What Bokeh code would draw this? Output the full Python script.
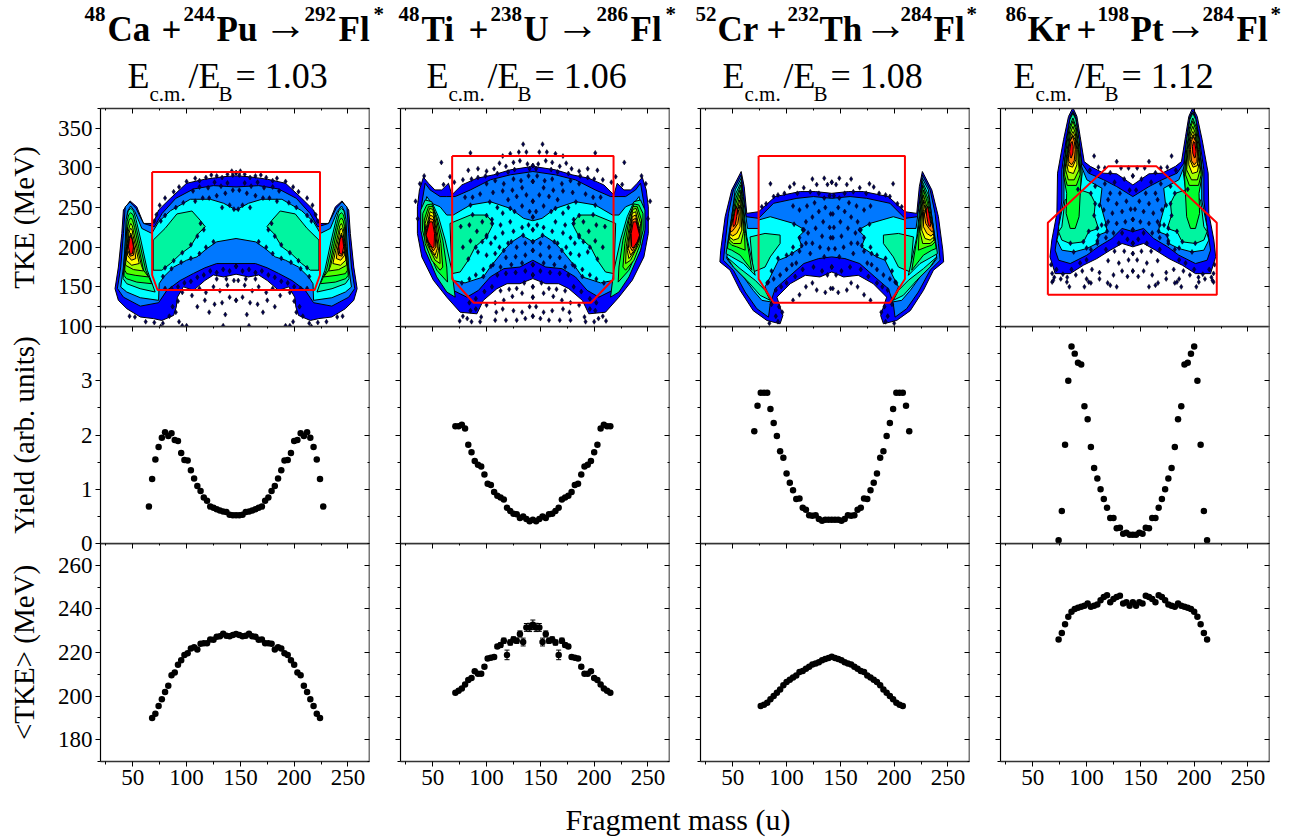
from bokeh.plotting import figure
from bokeh.layouts import column, row
from bokeh.models import LinearAxis, FixedTicker
from bokeh.core.properties import value
from bokeh.embed import file_html
from bokeh.resources import INLINE

SERIF = "Liberation Serif"
# half of each mirror-symmetric distribution, (mass, TKE)
CENTRE = [146, 143, 142, 143]

P1_BLUE = [(146,166),(134.5,162.5),(125,165),(117,158),(106.5,145.6),(97,150),(91.5,137),(90.4,124.5),(88,114),(77,107.6),(69,110),(57,112),(44.5,122.4),(36.6,133),(33.5,147.7),(36.6,175),(39.8,217.4),(41.3,247),(47.5,258.4),(53.7,251),(60,230),(69,230),(74,247),(85,261.7),(100,280.7),(117,285.8),(134.5,289),(146,290)]
P1_DODGER = [(146,179.4),(128,179.4),(117,174),(106.5,167),(94,158),(81.7,145.6),(74,130),(57,125.7),(41.3,137),(35.7,148),(38.8,175),(41.3,217.4),(43,251),(47.5,257),(53,249),(60,230),(70,225.8),(77.3,242.7),(90,261.7),(106.5,273.5),(125,277.7),(146,276)]
P1_CYAN = [(146,211),(128,206.8),(119,198.4),(109.6,187.8),(100,183.6),(88,175),(78.6,162.5),(74.5,154),(74,133),(57,136.3),(44.4,143.5),(38.8,149.8),(41.3,175),(43.8,217.4),(45,244.8),(48,252),(52,244.8),(58.4,223.7),(67.7,217.4),(74,232),(85,246),(103.4,260.5),(122,260.5),(134.5,255.4),(146,247)]
P1_TEAL = [[(69,171),(69,209),(80,223.7),(91,242),(105,245.7),(112.7,234),(117.4,225.8),(111,217.4),(103.4,200.5),(94,191),(85,179.4),(77,171)]]
P1_PEAK = [
 [(41,160.4),(42.8,200.5),(43.8,235),(45.8,246),(48.1,249),(50.6,246),(53,235),(57.5,209),(63.5,171),(70.8,143.5),(56.8,147.7),(44.4,154)],
 [(41.8,164.6),(43.6,200.5),(44.6,232),(46.2,241),(48.1,243.5),(50.2,241),(52.3,230),(56.5,204.7),(62,171),(67.7,154),(53.7,156),(44,160.4)],
 [(42.5,171),(44.2,200.5),(45.2,226),(46.6,234),(48.1,237),(49.8,234),(51.6,225),(55.5,200.5),(60,171),(64.6,162.5),(52.2,164.6),(44.4,166.7)],
 [(43.2,177.3),(44.8,200.5),(45.8,219.5),(47,227),(48.1,230),(49.6,227),(50.8,219),(54.3,198.4),(58,177.3),(60,170),(50.6,171.8)],
 [(44,183.6),(45.3,204.7),(46.4,217),(47.2,221.5),(48.1,224),(49.4,221.5),(50.2,215),(53.3,196.3),(56,179.4),(49,177.3)],
 [(45,189.9),(46.3,209),(48.1,218),(49.7,211),(51.9,196.3),(52.8,185.7),(48.8,183.6)],
 [(45.3,196.3),(46.6,211),(48.1,215.3),(49.7,209),(51.2,196.3),(50.6,189.9),(47.5,188.7)],
 [(46,200.5),(47,211),(48.1,214),(49.4,209.8),(50.6,200.5),(49.7,192),(47.5,191)],
]
P1_SPECK = [(100,283),(108,287),(112,284),(118,288),(123,291),(128,290),(133,288),(138,292),(143,291),(146,294),(142,296),(93,276),(88,270),(80,262),(75,253),(72,241),(70,233),
 (106,271),(112,276),(120,275),(126,282),(132,277),(138,281),(143,272),(136,268),(128,265),(121,262),(133,250),(140,253),(144,248),
 (146,176),(140,170),(134,172),(128,168),(122,170),(116,165),(110,162),(104,157),(98,155),(92,150),(86,148),(80,148),(125,150),(131,145),(138,152),(118,143),(112,148),(105,139),(96,143),(128,160),(137,160),(144,158),
 (133,130),(126,128),(117,133),(110,125),(140,137),(146,133),(121,118),(136,115),
 (90,118),(84,113),(78,104),(70,105),(62,106),(52,112),(47,113),(92,132),(87,125),(93,106),(96,101),(100,101),(134,101),(76,100),
 (76,233),(80,240),(90,250),(97,256),(108,258),(115,262),(125,207),(118,200),(112,192),(104,186),(95,181),(86,173),(78,163),(113,230),(116,222),(110,214),(104,203),(96,193),(88,183),(80,174)]

P2_BLUE = [(143,160.4),(131,154),(119,154),(109.6,147.7),(97,133),(91,116),(75.5,118),(63,137),(50.6,158.3),(39.8,187.8),(35.7,217.4),(35.7,251),(37.6,272.3),(41.3,288.3),(46,280.7),(52,272.3),(58.4,272.3),(64.6,280.7),(67.7,266),(77,278.6),(91,287),(106.5,291.3),(122,297.6),(143,302)]
P2_DODGER = [(143,183.6),(131,175),(116,173),(103.4,162.5),(92.5,145.6),(81.7,137),(69,145.6),(52,171),(42.9,196.3),(38.8,225.8),(39.8,255.4),(42.9,280.7),(47.5,272.3),(56.8,263.9),(63,263.9),(70.8,263.9),(85,272.3),(103.4,285),(122,291.3),(143,295.5)]
P2_CYAN = [(143,207),(133,215),(123.6,206.8),(116,196.3),(103.4,175),(97,162.5),(80,155),(67.7,158.3),(60,171),(47.5,192),(41.3,217.4),(40.7,242.7),(44.4,263.9),(49,255.4),(56.8,251),(63,240.6),(69,240.6),(85,253.3),(103.4,257.5),(122,249),(134.5,236.4),(143,233.4)]
P2_TEAL = [[(67.7,166.7),(66,230),(85,240.6),(100,240.6),(106.5,230),(100,213),(89.4,200.5),(83,183.6),(75.5,168.8)]]
P2_PEAK = [
 [(38.8,247),(42.9,259.6),(49,257.5),(55.3,238.5),(61.5,209),(67.7,171),(70.8,137),(63,143.5),(53.7,162.5),(42.9,196.3),(38.8,221.6)],
 [(40.7,242.7),(44.4,253.3),(49,254.6),(53.7,238.5),(59.3,209),(63,175),(63.7,156),(53.7,171),(44.4,200.5),(40.4,221.6)],
 [(42,234.3),(46,251.2),(50,251.2),(53.7,234.3),(57.5,204.7),(59.3,175),(56.8,171),(49,183.6),(42.9,204.7)],
 [(42.9,230),(47,249),(50,247.8),(53,230),(56.2,200.5),(56.8,179.4),(52.2,183.6),(44.4,204.7)],
 [(43.8,223.7),(47.5,244.8),(50.6,242.7),(52.8,223.7),(55.3,196.3),(53.7,185.7),(49,194),(44.4,209)],
 [(43.8,219.5),(47.5,240.6),(50.6,238.5),(52.5,219.5),(54.3,198.4),(52.2,190),(47.5,198.4),(44.4,211)],
 [(43.8,217.4),(47.5,236.4),(50.6,234.3),(52.2,217.4),(52.8,200.5),(50.6,195.4),(47,202.6),(44.4,211)],
 [(43.8,215.3),(47,232),(49.7,232),(51.6,217.4),(51.2,200.5),(49.7,199),(46,206.8)],
]
P2_SPECK = [(134,330),(122,318),(130,320),(137,320),(115,315),(85,319),(58,307),(83,297),(92,299),(100,296),(107,299),(112,306),(118,302),(125,307),(131,309),(138,305),(143,303),(140,299),(126,298),(120,295),(110,293),(99,290),(92,288),(86,286),(78,285),(70,282),(66,289),(60,279),(42,290),(38,280),(34,258),(36,236),
 (100,280),(108,284),(116,280),(125,286),(132,284),(139,290),(143,283),(133,275),(124,272),(115,271),(106,269),(94,267),(87,263),(80,263),(128,264),(137,266),(143,258),(120,260),(110,250),(115,243),(126,245),(133,252),(140,245),(143,238),(122,232),(113,228),(105,235),(96,232),(84,228),(76,226),(91,220),(100,215),(108,212),(115,218),(125,220),(133,225),(139,228),(143,222),(120,205),(128,200),(136,205),(143,196),(112,200),(104,205),(96,207),(85,208),(78,200),(92,194),(100,190),(108,192),(118,187),(127,188),(136,190),(143,178),(133,180),(123,178),(113,175),(106,178),(97,172),(90,165),(84,160),(77,155),(110,165),(118,167),(127,168),(136,170),(143,165),
 (143,150),(135,155),(128,148),(121,147),(113,145),(105,150),(98,144),(90,135),(84,130),(133,142),(124,138),(116,133),(108,130),(100,127),(90,122),(85,120),(78,113),(75,107),(82,110),(95,112),(109,118),(115,122),(125,120),(133,118),(140,125),(143,137),(136,110),(143,113),(128,108),(108,108),(118,108),(94,106),(86,106),
 (87,241),(100,240),(105,230),(100,213),(90,200),(83,185),(123,207),(116,196),(104,176),(97,163),(134,215),(143,207),(122,249),(103,257),(85,253)]

P3_BLUE = [(142,168.8),(131,162.5),(117.4,164.6),(103.4,154),(91,137),(96.6,114),(94,103.4),(81.7,107.6),(69,120),(56.8,145.6),(47.5,171),(38,181.5),(38.8,196.3),(42.9,238.5),(49,272.3),(57.8,295.5),(60.6,276.5),(63,242.7),(74,244.8),(89.4,263.9),(112.7,270.2),(126.7,270.2),(142,268)]
P3_DODGER = [(142,187.8),(129.8,185.7),(116,179.4),(101.9,162.5),(89.4,147.7),(84.8,128.7),(83.2,111.8),(72.4,122.4),(61.5,143.5),(50.6,171),(41.3,183.6),(42.9,204.7),(46,242.7),(50.6,272.3),(57.8,291.3),(59.3,272.3),(62.4,238.5),(74,236.4),(87.9,255.4),(109.6,261.7),(125,263.9),(142,261.7)]
P3_TEAL = [
 [(74,234.3),(84.8,238.5),(106.5,230),(117.4,221.6),(111,213),(114.3,200.5),(100.3,187.8),(92.5,183.6),(84.8,162.5),(80,150),(86.3,130.8),(77,133),(69,145.6),(60,162.5),(49,177.3),(44.4,185.7),(46,204.7),(49,238.5),(52.2,272.3),(57.8,287),(59.3,268),(63.7,223.7),(74,223.7)],
 [(66.1,213),(80,217.4),(94,215.3),(94,204.7),(84.8,187.8),(80,175),(69,168.8)],
 [(44.4,187.8),(56.8,173),(70.8,158.3),(80,145.6),(84.8,133),(75.5,139.3),(63,158.3),(50.6,175)],
]
P3_PEAK = [
 [(43.8,192),(47.5,225.8),(52.2,266),(57.8,283),(59,263.9),(63,213),(70.8,164.6),(60,179.4),(49,187.8)],
 [(45,198.4),(48,228),(52.8,261.7),(57.5,278.6),(58.7,259.6),(62,217.4),(67.7,171),(56.8,190),(49,196.3)],
 [(46,206.8),(49,230),(53,255.4),(56.8,272.3),(58.4,255.4),(60.9,217.4),(61.5,196.3),(53.7,200.5),(49,202.6)],
 [(47,209),(49.7,232),(53.7,251.2),(56.8,266),(58,251.2),(60,219.5),(57.5,204.7),(50.6,204.7)],
 [(47,213),(50,232),(53.7,244.8),(56.5,259.6),(57.5,247),(58.4,221.6),(55.3,211),(50.6,209)],
 [(47.5,217.4),(50,232),(53.7,240.6),(55.9,253.3),(56.8,244.8),(56.8,225.8),(53.7,217.4),(49.7,214)],
 [(47.5,221.6),(50,234.3),(53.7,240.6),(55.3,247),(55.9,240.6),(54.7,230),(51.6,223.7),(49,219.5)],
 [(50,230),(51.6,242.7),(53,252),(54.3,247),(53.7,238.5),(52.2,228),(50.6,225.8)],
]
P3_SPECK = [(85,280),(107,280),(124,286),(142,282),(135,287),(138,279),(128,279),(116,275),(103,276),(92,266),(88,264),(81,255),(77,251),(130,268),(122,270),(110,268),(98,268),(140,265),(135,262),(126,256),(119,252),(112,247),(106,252),(136,250),(130,245),(141,242),(124,238),(118,232),(134,232),(140,225),(127,224),(120,218),(115,222),(133,214),(141,212),(124,205),(118,205),(131,200),(139,198),(112,195),(106,200),(122,192),(135,188),(105,178),(100,172),(94,165),(88,160),(83,156),(100,190),(109,180),(115,172),(125,175),(133,170),(142,175),(138,165),(108,163),(100,155),(95,150),(90,146),(128,146),(118,150),(112,140),(106,133),(141,148),(136,143),(124,155),(86,128),(93,125),(90,113),(92,106),(84,104),(96,118),
 (107,229),(116,222),(112,212),(114,202),(105,192),(92,186),(86,170),(82,155)]

P4_BLUE = [(143,200.5),(133,204.7),(122,196.3),(109.6,185.7),(97,177.3),(84.8,166.7),(70.8,166.7),(66,187.8),(67.7,209),(72.4,242.7),(73,293.4),(78.6,335.6),(83.2,365),(87.3,376),(91,365),(94,340),(97.8,308),(103.4,302),(115.8,293.4),(128,292.6),(143,278.6)]
P4_DODGER = [(143,219.7),(133,223.7),(123.6,211),(110.7,200.5),(100.3,190),(84.8,179.4),(74,183.6),(70.8,196.3),(74,225.8),(77,259.6),(77,297.6),(81,335.6),(84.8,365),(87.3,371.5),(90,365),(92.5,340),(95.6,306),(101.9,293.4),(116,285),(128,276.5),(143,263.9)]
P4_CYAN = [[(74,217.4),(72.4,209),(77,196.3),(88,194),(100.3,198.4),(109.6,204.7),(111,215.3),(119,219.5),(118.3,228),(112.7,255.4),(114.3,274.4),(100.3,285),(94,306),(91.6,340),(89.4,365),(87.3,369.4),(85.4,365),(82.3,335.6),(79,302),(79,259.6),(74,225.8)]]
P4_TEAL = [[(77,225.8),(80,259.6),(92.5,273),(103.4,268),(108,255.4),(107,240.6),(111,223.7),(101.9,219.5),(97.2,206.8),(84.8,204.7),(77,209),(74,219.5)]]
P4_PEAK = [
 [(78.5,293.4),(81.5,335.6),(84.5,361),(87.3,369),(90,361),(93,335.6),(96,293.4),(94,272.3),(83.2,263.9)],
 [(78.5,291.3),(81,323),(83.8,350.4),(87.3,363),(90.5,350.4),(93,323),(95,291.3),(93,238.5),(89.4,223.7),(84.8,223.7),(81,242.7),(81.5,268)],
 [(79.5,291.3),(82,323),(84.5,348.3),(87.3,359),(90,348.3),(92.5,323),(94,291.3),(90.5,278),(82,278)],
 [(80.5,297.6),(82.8,323),(85,344),(87.3,352.5),(89.5,344),(91.8,323),(93,297.6),(88.5,285),(83,285)],
 [(81.5,306),(83,323),(85,339.9),(87.3,346),(89.3,339.9),(91,323),(91,303.9),(87.8,293),(83,295)],
 [(82.3,314.5),(84,331.4),(87,342),(89.3,335.6),(90.3,323),(90,310.3),(87,301),(83,303)],
 [(83,318.8),(84.6,333.5),(87,339.9),(88.6,333.5),(89.5,323),(88.5,309),(86,304),(83.5,308)],
 [(84.2,320.8),(85.4,331.4),(86.6,333.5),(87.6,327),(87.3,318.8),(85.7,312.4),(84.8,313.7)],
]
P4_SPECK = [(107,315),(128,308),(132,300),(117,300),(111,301),(103,297),(122,294),(139,300),(143,290),(135,286),(126,282),(117,280),(108,277),(140,272),(131,268),(122,268),(137,258),(128,255),(120,260),(116,247),(124,243),(133,245),(141,248),(143,235),(136,232),(128,230),(120,232),(114,228),(125,218),(133,218),(143,222),(138,210),(118,212),(130,205),(143,205),(110,208),(104,197),(118,197),(126,195),(135,195),(143,192),(139,184),(130,180),(120,183),(100,184),(94,180),(86,172),(78,166),(72,172),(67,178),(68,167),(70,162),(76,160),(82,162),(90,165),(96,170),(105,172),(112,168),(100,160),(112,160),(125,165),(133,170),(143,170),(138,163),(122,152),(98,150),(84,150),(68,156),(128,150),(104,155),(69,158),(81.7,156),(102,156),(119.6,155),
 (92,273),(104,268),(108,255),(107,240),(110,224),(102,220),(97,207),(85,205),(112,253),(118,228),(119,220),(111,215),(110,205),(100,199),(88,194)]

# cuts drawn in red
P1_GATE = [(68,295),(224,295),(224,165),(219,146),(73,146),(68,165)]
P2_GATE = [(68,315),(218,315),(218,160),(197,130),(88,130),(68,160)]
P3_GATE = [(74,315),(210,315),(210,160),(196,130),(88,130),(74,160)]
P4_GATE = [(64,140),(64,231),(120,302),(165,302),(221,231),(221,140)]

# yield, left half up to symmetric centre
Y_M0 = [65, 71, 70, 74]
P1_YIELD = [0.68,1.19,1.55,1.78,1.95,2.05,1.98,2.03,1.91,1.89,1.67,1.54,1.53,1.35,1.20,1.06,0.97,0.85,0.79,0.68,0.66,0.63,0.61,0.59,0.58,0.53,0.52,0.52]
P2_YIELD = [2.16,2.16,2.19,2.12,1.82,1.68,1.52,1.45,1.42,1.27,1.10,1.08,0.95,0.88,0.85,0.81,0.66,0.60,0.55,0.54,0.47,0.50,0.45,0.41,0.44]
P3_YIELD = [2.07,2.54,2.78,2.78,2.78,2.48,2.22,1.98,1.70,1.58,1.29,1.12,0.98,0.82,0.83,0.66,0.62,0.52,0.51,0.52,0.45,0.42,0.44,0.44,0.44]
P4_YIELD = [0.06,0.60,1.82,3.00,3.63,3.50,3.33,3.30,2.53,2.29,1.78,1.39,1.20,1.00,0.82,0.66,0.47,0.47,0.28,0.29,0.18,0.20,0.16,0.16]

# mean TKE, left half up to symmetric centre
T_M0 = [68, 71, 76, 74]
P1_TKE = [189.9,191.9,195.5,198.6,201.9,204.8,209.6,210.8,214.4,216.4,218.9,219.6,221.8,222.4,221.4,224,224.2,224.2,226,225.9,227.2,227.5,228.6,227.7,227.5,228,228.5]
P2_TKE = [201.5,202.4,203.5,205.3,207.4,208.3,211.4,210.2,210.3,213.5,217.2,217.6,217.9,222.8,223.4,225.4,218.9,224.6,226,225.4,228.5,224.8,231.5,231.5,232.7]
P2_ERR = [0.5,0.5,0.5,0.5,0.6,0.6,0.6,0.7,0.7,0.8,0.8,0.8,0.8,0.9,1.0,1.2,2.2,1.2,1.2,1.2,1.4,1.8,1.8,1.9,2.2]
P3_TKE = [195.5,196,197,198.5,200,201.5,203,205,206.5,207.5,208.5,209.5,211,211.5,212.5,213.5,214.5,215,215.5,216.5,217,217.5,218]
P4_TKE = [226,229,233,236.4,238.7,240,240.5,241,241.5,242.5,241,241.5,242,244,245.5,246.3,243,244.5,245.5,246,242.5,243,241.5,243]

X_TICKS = [50, 100, 150, 200, 250]
X_MINOR = [25, 75, 125, 175, 225]
TKE_TICKS = [100, 150, 200, 250, 300, 350]
TKE_MINOR = [125, 175, 225, 275, 325, 375]
YIELD_TICKS = [0, 1, 2, 3]
YIELD_MINOR = [0.5, 1.5, 2.5, 3.5]
MEAN_TICKS = [180, 200, 220, 240, 260]
MEAN_MINOR = [170, 190, 210, 230, 250, 270]

C_BLUE, C_DODGER, C_CYAN, C_TEAL = "#0000FF", "#0078FF", "#00FFFF", "#00F5A0"
C_PEAK = ["#00F5A0", "#00FF30", "#50FF00", "#A0FF00", "#FFFF00", "#FFC800", "#FF8000", "#FF0000"]

ROW_H = [218, 217, 218]
LABELS = ["TKE (MeV)", "Yield (arb. units)", "<TKE> (MeV)"]
LABEL_STANDOFF = [15, 38, 15]


def blank(axis, ticks):
    axis.major_label_overrides = {t: "" for t in ticks}
    axis.major_label_text_font_size = "1px"
    axis.major_label_standoff = 0


def style_panel(p, xt, xm, yt, ym, row_i, col_i):
    xtick = FixedTicker(ticks=xt, minor_ticks=xm)
    ytick = FixedTicker(ticks=yt, minor_ticks=ym)
    p.xgrid.visible = False
    p.ygrid.visible = False
    p.outline_line_color = None
    p.background_fill_color = None
    p.border_fill_color = None
    # left
    a = p.yaxis[0]
    a.ticker = ytick
    a.major_tick_out, a.major_tick_in, a.minor_tick_out, a.minor_tick_in = 5, 0, 3, 0
    a.axis_line_width, a.major_tick_line_width, a.minor_tick_line_width = 1.2, 1, 1
    a.major_label_text_font = SERIF
    a.major_label_text_color = "#000000"
    if col_i == 0:
        a.major_label_standoff = 3
        a.major_label_text_font_size = "23px"
        a.axis_label = LABELS[row_i]
        a.axis_label_text_font = SERIF
        a.axis_label_text_color = "#000000"
        a.axis_label_text_font_style = "normal"
        a.axis_label_text_font_size = "29px"
        a.axis_label_standoff = LABEL_STANDOFF[row_i]
    else:
        blank(a, yt)
    # bottom
    b = p.xaxis[0]
    b.ticker = xtick
    b.axis_line_width = 1.6
    b.axis_line_color = "#333333"
    b.major_label_text_font = SERIF
    b.major_label_text_color = "#000000"
    if row_i == 2:
        b.major_tick_out, b.major_tick_in, b.minor_tick_out, b.minor_tick_in = 5, 0, 3, 0
        b.major_label_standoff = 3
        b.major_label_text_font_size = "23px"
    else:
        b.major_tick_out, b.major_tick_in, b.minor_tick_out, b.minor_tick_in = 0, 0, 0, 0
        blank(b, xt)
    # top, right: inward ticks
    t = LinearAxis(ticker=xtick, major_tick_in=5, major_tick_out=0, minor_tick_in=2, minor_tick_out=0,
                   axis_line_color="#333333", axis_line_width=1.6)
    blank(t, xt)
    p.add_layout(t, "above")
    r = LinearAxis(ticker=ytick, major_tick_in=5, major_tick_out=0, minor_tick_in=2, minor_tick_out=0,
                   axis_line_color="#777777", axis_line_width=2)
    blank(r, yt)
    p.add_layout(r, "right")


def mirror(pts, c):
    return [(2 * c - m, e) for m, e in pts]


def body(p, half, c, colour):
    full = half + mirror(half, c)[::-1]
    p.patch([q[0] for q in full], [q[1] for q in full], fill_color=colour, line_color="black", line_width=1)


def lobe(p, pts, c, colour):
    for side in (pts, mirror(pts, c)):
        p.patch([q[0] for q in side], [q[1] for q in side], fill_color=colour, line_color="black", line_width=1)


def sym_xy(m0, half):
    xs = [m0 + 3 * i for i in range(2 * len(half) - 1)]
    return xs, half + half[-2::-1]


def make_row(yr, yt, ym, row_i, col_i):
    p = figure(frame_width=269, frame_height=ROW_H[row_i], x_range=(20, 270), y_range=yr,
               output_backend="svg", toolbar_location=None,
               min_border_left=100 if col_i == 0 else 30, min_border_right=1,
               min_border_top=1 if row_i == 0 else 0,
               min_border_bottom=30 if row_i == 2 else 12)
    if row_i < 2:
        p.margin = (0, 0, -12, 0)
    style_panel(p, X_TICKS, X_MINOR, yt, ym, row_i, col_i)
    return p


PANELS = [
    (P1_BLUE, P1_DODGER, [P1_CYAN], [], P1_TEAL, P1_PEAK, P1_SPECK, P1_GATE, P1_YIELD, P1_TKE),
    (P2_BLUE, P2_DODGER, [P2_CYAN], [], P2_TEAL, P2_PEAK, P2_SPECK, P2_GATE, P2_YIELD, P2_TKE),
    (P3_BLUE, P3_DODGER, [], [P3_TEAL[0]], P3_TEAL[1:], P3_PEAK, P3_SPECK, P3_GATE, P3_YIELD, P3_TKE),
    (P4_BLUE, P4_DODGER, [], P4_CYAN, P4_TEAL, P4_PEAK, P4_SPECK, P4_GATE, P4_YIELD, P4_TKE),
]

cols = []
for i, (blue, dodger, cyans, cyan_lobes, teals, peaks, specks, gate, yld, tke) in enumerate(PANELS):
    c = CENTRE[i]
    top = make_row((100, 375), TKE_TICKS, TKE_MINOR, 0, i)
    body(top, blue, c, C_BLUE)
    body(top, dodger, c, C_DODGER)
    for h in cyans:
        body(top, h, c, C_CYAN)
    for h in cyan_lobes:
        lobe(top, h, c, C_CYAN)
    for h in teals:
        lobe(top, h, c, C_TEAL)
    for k, h in enumerate(peaks):
        lobe(top, h, c, C_PEAK[k])
    sx = [q[0] for q in specks] + [2 * c - q[0] for q in specks]
    sy = [q[1] for q in specks] * 2
    top.scatter(sx, sy, size=5, marker="diamond", fill_color="#000050", line_color="black", line_width=0.5)
    gx = [q[0] for q in gate] + [gate[0][0]]
    gy = [q[1] for q in gate] + [gate[0][1]]
    top.line(gx, gy, line_color="#FF0000", line_width=2)

    mid = make_row((0, 4), YIELD_TICKS, YIELD_MINOR, 1, i)
    x, y = sym_xy(Y_M0[i], yld)
    mid.scatter(x, y, size=6.5, marker="circle", fill_color="black", line_color="black", line_width=0)

    low = make_row((170, 270), MEAN_TICKS, MEAN_MINOR, 2, i)
    x, y = sym_xy(T_M0[i], tke)
    if i == 1:
        _, e = sym_xy(T_M0[i], P2_ERR)
        lo = [a - b for a, b in zip(y, e)]
        hi = [a + b for a, b in zip(y, e)]
        low.segment(x, lo, x, hi, line_color="black", line_width=1)
        low.scatter(x + x, lo + hi, size=5, marker="dash", line_color="black", line_width=1)
    low.scatter(x, y, size=6.5, marker="circle", fill_color="black", line_color="black", line_width=0)
    cols.append(column(top, mid, low, spacing=0))

# headings, positioned in page pixels
banner = figure(width=1290, height=107, x_range=(0, 1290), y_range=(107, 0), output_backend="svg",
                toolbar_location=None, x_axis_location=None, y_axis_location=None,
                min_border_left=0, min_border_right=0, min_border_top=0, min_border_bottom=0)
banner.grid.visible = False
banner.outline_line_color = None


def tx(fig, x, y, s, size, bold=False):
    fig.text([x], [y - 0.33 * size], text=[s], text_font=value(SERIF), text_font_size=f"{size}px",
             text_font_style="bold" if bold else "normal", text_baseline="alphabetic", text_align="left", text_color="black")


TITLE_1 = [("48", 84, 1), ("Ca", 107, 0), ("+", 161, 0), ("244", 183, 1), ("Pu", 216, 0), ("→", 268, 0), ("292", 304, 1), ("Fl", 338, 0), ("*", 373, 1)]
TITLE_2 = [("48", 398, 1), ("Ti", 421, 0), ("+", 468, 0), ("238", 490, 1), ("U", 523, 0), ("→", 560, 0), ("286", 596, 1), ("Fl", 630, 0), ("*", 665, 1)]
TITLE_3 = [("52", 695, 1), ("Cr", 717, 0), ("+", 766, 0), ("232", 787, 1), ("Th", 819, 0), ("→", 868, 0), ("284", 900, 1), ("Fl", 933, 0), ("*", 966, 1)]
TITLE_4 = [("86", 1005, 1), ("Kr", 1027, 0), ("+", 1076, 0), ("198", 1097, 1), ("Pt", 1130, 0), ("→", 1168, 0), ("284", 1202, 1), ("Fl", 1236, 0), ("*", 1270, 1)]
for t in (TITLE_1, TITLE_2, TITLE_3, TITLE_4):
    for s, x, sup in t:
        if s == "→":
            tx(banner, x - 5, 39, s, 44)
        elif sup:
            tx(banner, x, 20, s, 21, True)
        else:
            tx(banner, x, 41, s, 35, True)

ENERGY = ["1.03", "1.06", "1.08", "1.12"]
E_X = [127, 426, 722, 1013]
for ex, val in zip(E_X, ENERGY):
    tx(banner, ex, 87, "E", 36)
    tx(banner, ex + 22, 100, "c.m.", 21)
    tx(banner, ex + 61, 87, "/E", 36)
    tx(banner, ex + 91, 100, "B", 21)
    tx(banner, ex + 108, 87, "= " + val, 36)

xlabel = figure(width=1290, height=47, x_range=(0, 1290), y_range=(838, 791), output_backend="svg",
                toolbar_location=None, x_axis_location=None, y_axis_location=None,
                min_border_left=0, min_border_right=0, min_border_top=0, min_border_bottom=0)
xlabel.grid.visible = False
xlabel.outline_line_color = None
tx(xlabel, 565, 829, "Fragment mass (u)", 30)

page = column(banner, row(*cols, spacing=0), xlabel, spacing=0)
open("out.html", "w").write(file_html(page, INLINE))
